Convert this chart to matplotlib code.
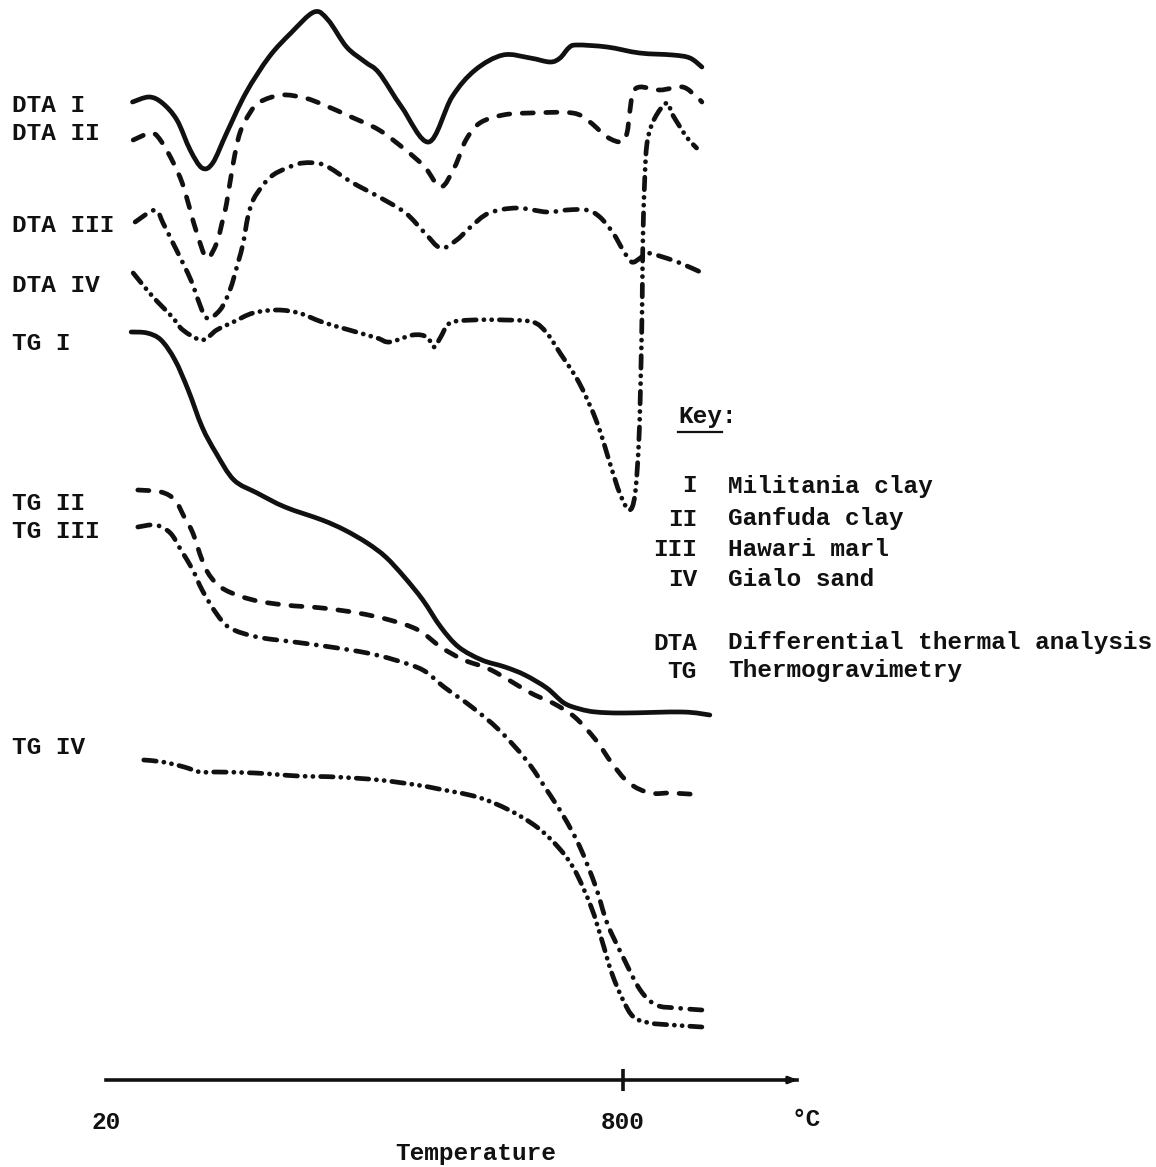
"""
DTA / TG curves of four Libyan raw materials (redrawn from a scanned figure).
Deflection values are in arbitrary chart units, measured downward.
"""

import matplotlib
matplotlib.use("Agg")
import matplotlib.pyplot as plt
from matplotlib.lines import Line2D
from matplotlib.patches import PathPatch
from matplotlib.path import Path
from matplotlib.transforms import blended_transform_factory

OUT_FILE = "out.png"
INK = "#111111"
FONT = ["Liberation Mono", "DejaVu Sans Mono"]
FS = 17.6

# ── Curves: temperature (°C) and deflection (chart units, down = larger) ──
DTA1_T = [60, 85, 105, 127, 147, 165, 181, 202, 231, 266, 299, 334, 355, 383, 411, 432,
          466, 507, 542, 577, 619, 660, 690, 705, 718, 730, 776, 825, 875, 901, 919]
DTA1_Y = [102, 97, 103, 120, 150, 168, 163, 133, 93, 57, 33, 12, 20, 47, 62, 73,
          107, 142, 97, 70, 55, 58, 62, 58, 48, 45, 47, 53, 55, 58, 67]

DTA2_T = [61, 89, 104, 121, 135, 147, 157, 172, 187, 195, 202, 212, 222, 237, 252, 285,
          320, 349, 390, 432, 472, 501, 525, 546, 563, 584, 619, 660, 724, 750, 776, 798,
          806, 810, 815, 826, 856, 890, 911, 919]
DTA2_Y = [140, 133, 142, 162, 183, 210, 233, 258, 243, 223, 203, 163, 133, 113, 102, 95,
          98, 105, 117, 130, 150, 167, 187, 167, 140, 123, 115, 113, 113, 122, 137, 142,
          133, 113, 93, 87, 90, 87, 97, 102]

DTA3_T = [64, 94, 106, 121, 136, 150, 159, 172, 192, 207, 219, 227, 234, 242, 257, 272,
          293, 317, 349, 390, 432, 472, 501, 525, 549, 570, 598, 640, 685, 715, 745, 765,
          785, 800, 813, 826, 836, 860, 886, 920]
DTA3_Y = [222, 210, 223, 243, 263, 283, 300, 318, 310, 290, 263, 243, 217, 200, 185, 175,
          168, 163, 165, 182, 197, 213, 233, 248, 240, 227, 213, 208, 212, 210, 210, 217,
          233, 250, 262, 258, 253, 257, 263, 273]

DTA4_T = [61, 82, 98, 120, 136, 165, 187, 212, 242, 278, 311, 346, 387, 429, 448, 483,
          504, 515, 525, 539, 574, 622, 664, 685, 705, 734, 761, 782, 795, 809, 818, 824,
          827, 829, 830, 833, 837, 848, 866, 875, 896, 911]
DTA4_Y = [273, 290, 302, 317, 330, 340, 330, 322, 313, 310, 313, 322, 330, 338, 342, 335,
          337, 347, 337, 323, 320, 320, 322, 333, 353, 383, 423, 467, 493, 510, 495, 440,
          370, 300, 240, 175, 140, 118, 103, 115, 137, 148]

TG1_T = [58, 82, 103, 124, 144, 165, 186, 213, 248, 290, 346, 380, 414, 442, 470, 498,
         525, 552, 587, 622, 652, 685, 711, 735, 759, 800, 890, 931]
TG1_Y = [332, 333, 340, 360, 390, 427, 453, 480, 493, 507, 520, 530, 543, 557, 577, 600,
         627, 647, 660, 667, 675, 688, 703, 709, 712, 713, 712, 715]

TG2_T = [68, 103, 124, 138, 151, 165, 178, 200, 242, 290, 346, 400, 448, 491, 525, 560,
         601, 661, 694, 727, 759, 783, 809, 841, 874, 919]
TG2_Y = [490, 492, 500, 517, 533, 560, 577, 590, 600, 605, 608, 613, 620, 630, 647, 660,
         670, 693, 703, 717, 740, 763, 783, 793, 793, 795]

TG3_T = [68, 95, 117, 133, 151, 165, 186, 207, 248, 304, 359, 414, 456, 498, 530, 572,
         613, 654, 685, 711, 735, 759, 776, 800, 826, 850, 881, 919]
TG3_Y = [527, 525, 533, 550, 570, 590, 613, 628, 637, 642, 647, 653, 660, 670, 687, 707,
         730, 760, 790, 817, 847, 887, 923, 957, 990, 1005, 1008, 1010]

TG4_T = [77, 106, 138, 162, 187, 245, 310, 367, 432, 489, 522, 580, 628, 670, 702, 727,
         752, 768, 783, 800, 816, 841, 874, 919]
TG4_Y = [760, 762, 767, 772, 772, 773, 776, 777, 780, 785, 789, 797, 810, 827, 847, 870,
         907, 940, 973, 1000, 1017, 1023, 1025, 1027]

# ── Labels ────────────────────────────────────────────────────────
CURVE_LABELS = ["DTA I", "DTA II", "DTA III", "DTA IV", "TG I", "TG II", "TG III", "TG IV"]
CURVE_LABEL_Y = [105, 134, 225, 285, 343, 504, 532, 747]

KEY_CODES = ["I", "II", "III", "IV", "DTA", "TG"]
KEY_NAMES = ["Militania clay", "Ganfuda clay", "Hawari marl", "Gialo sand",
             "Differential thermal analysis", "Thermogravimetry"]
KEY_Y = [486, 519, 550, 579, 643, 671]

TICK_T = [20, 800]
TICK_LABELS = ["20", "800"]

# ── Layout ────────────────────────────────────────────────────────
W_PX, H_PX = 1156, 1167
T0_PX = 106                    # pixel column of 20 °C
PX_PER_DEG = 517 / 780
AXIS_Y = 1080
AXIS_END_T = 1062
LW = 3.4

plt.rcParams["lines.scale_dashes"] = False   # dash lengths in points
DASHED = (0, (8.0, 9.0))
DASHDOT = (0, (9.0, 6.5, 0.1, 6.5))
DASHDOTDOT = (0, (9.0, 5.5, 0.1, 5.5, 0.1, 5.5))

CURVES = [
    (DTA1_T, DTA1_Y, "-"), (DTA2_T, DTA2_Y, DASHED),
    (DTA3_T, DTA3_Y, DASHDOT), (DTA4_T, DTA4_Y, DASHDOTDOT),
    (TG1_T, TG1_Y, "-"), (TG2_T, TG2_Y, DASHED),
    (TG3_T, TG3_Y, DASHDOT), (TG4_T, TG4_Y, DASHDOTDOT),
]


def px_to_frac(x_px):
    return x_px / W_PX


def smooth_path(xs, ys):
    """Catmull-Rom curve through every reading, drawn as cubic Bezier pieces."""
    pts = list(zip(xs, ys))
    n = len(pts)
    verts = [pts[0]]
    codes = [Path.MOVETO]
    for i in range(n - 1):
        p0 = pts[max(i - 1, 0)]
        p1, p2 = pts[i], pts[i + 1]
        p3 = pts[min(i + 2, n - 1)]
        c1 = (p1[0] + (p2[0] - p0[0]) / 6, p1[1] + (p2[1] - p0[1]) / 6)
        c2 = (p2[0] - (p3[0] - p1[0]) / 6, p2[1] - (p3[1] - p1[1]) / 6)
        verts += [c1, c2, p2]
        codes += [Path.CURVE4] * 3
    return Path(verts, codes)


fig = plt.figure(figsize=(W_PX / 100, H_PX / 100), dpi=100)
fig.patch.set_facecolor("white")
ax = fig.add_axes([0, 0, 1, 1])
ax.set_xlim(20 - T0_PX / PX_PER_DEG, 20 + (W_PX - T0_PX) / PX_PER_DEG)
ax.set_ylim(H_PX, 0)
ax.set_facecolor("white")

for t, y, ls in CURVES:
    patch = PathPatch(smooth_path(t, y), facecolor="none", edgecolor=INK, lw=LW,
                      linestyle=ls, capstyle="round", joinstyle="round")
    ax.add_patch(patch)

# ── Temperature axis ──────────────────────────────────────────────
for side in ("left", "right", "top"):
    ax.spines[side].set_visible(False)
ax.spines["bottom"].set_position(("data", AXIS_Y))
ax.spines["bottom"].set_bounds(20, AXIS_END_T)
ax.spines["bottom"].set_linewidth(2.6)
ax.spines["bottom"].set_color(INK)
ax.set_yticks([])
ax.set_xticks(TICK_T)
ax.set_xticklabels(TICK_LABELS, family=FONT, fontsize=FS, fontweight="bold")
ax.tick_params(axis="x", direction="inout", length=16, width=2.6, pad=14, colors=INK)
ax.xaxis.get_major_ticks()[0].tick1line.set_visible(False)
ax.annotate("", xy=(AXIS_END_T + 6, AXIS_Y), xytext=(AXIS_END_T - 20, AXIS_Y),
            arrowprops=dict(arrowstyle="-|>,head_length=0.5,head_width=0.2",
                            lw=2.2, color=INK))
ax.text(AXIS_END_T + 14, 1120, "°C", family=FONT, fontsize=FS, fontweight="bold",
        ha="center", va="center", color=INK)
ax.set_xlabel("Temperature", family=FONT, fontsize=FS, fontweight="bold", color=INK)
ax.xaxis.set_label_coords(px_to_frac(476), 0.0215)

# ── Curve labels (left margin) ────────────────────────────────────
trans = blended_transform_factory(ax.transAxes, ax.transData)
for lab, y in zip(CURVE_LABELS, CURVE_LABEL_Y):
    ax.text(px_to_frac(12), y, lab, transform=trans, family=FONT, fontsize=FS,
            fontweight="bold", ha="left", va="center", color=INK)

# ── Key ───────────────────────────────────────────────────────────
ax.text(px_to_frac(678), 416, "Key:", transform=trans, family=FONT, fontsize=FS,
        fontweight="bold", ha="left", va="center", color=INK)
ax.add_line(Line2D([px_to_frac(678), px_to_frac(722)], [432, 432], transform=trans,
                   color=INK, lw=1.6))
for code, name, y in zip(KEY_CODES, KEY_NAMES, KEY_Y):
    ax.text(px_to_frac(697), y, code, transform=trans, family=FONT, fontsize=FS,
            fontweight="bold", ha="right", va="center", color=INK)
    ax.text(px_to_frac(728), y, name, transform=trans, family=FONT, fontsize=FS,
            fontweight="bold", ha="left", va="center", color=INK)

fig.savefig(OUT_FILE, dpi=100, facecolor="white")
